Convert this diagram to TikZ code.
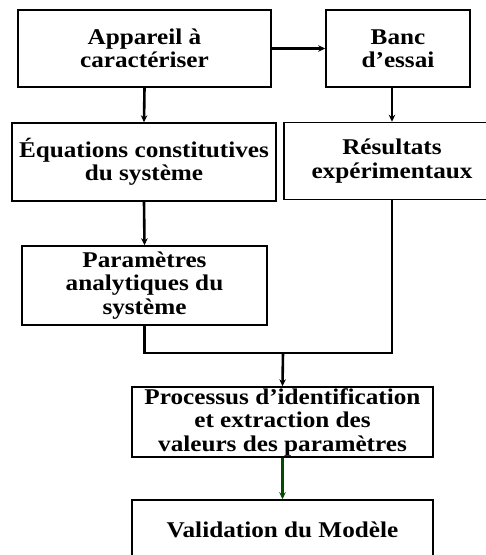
\documentclass[tikz,border=0pt]{standalone}
\usepackage{fontspec}
\setmainfont[FakeStretch=1.12]{Liberation Serif}
\usetikzlibrary{arrows.meta}

\begin{document}
\begin{tikzpicture}[x=1pt, y=-1pt, >={Stealth[length=7pt,width=6.5pt]},
    bloc/.style={draw, line width=1.5pt, align=center, inner sep=1pt,
      font=\bfseries\fontsize{22.5}{23.5}\selectfont},
    lien/.style={line width=2.6pt}]
    % cadre de la figure
    \useasboundingbox (0,0) rectangle (486,555);
    \clip (0,0) rectangle (486,555);

    % les blocs
    \node[bloc, minimum width=253pt, minimum height=77pt] (app) at (144.5,48.5)
      {Appareil à\\caractériser};
    \node[bloc, minimum width=144pt, minimum height=77pt] (banc) at (398,48.5)
      {Banc\\d’essai};
    \node[bloc, minimum width=264pt, minimum height=78pt] (equ) at (144,162)
      {Équations constitutives\\du système};
    \node[bloc, minimum width=216pt, minimum height=77pt] (res) at (392,161)
      {Résultats\\expérimentaux};
    \node[bloc, minimum width=245pt, minimum height=79pt] (par) at (144.5,285.5)
      {Paramètres\\analytiques du\\système};
    \node[bloc, minimum width=301pt, minimum height=70pt] (proc) at (282.5,422)
      {Processus d’identification\\et extraction des\\valeurs des paramètres};
    \node[bloc, minimum width=301pt, minimum height=60pt] (val) at (282.5,530)
      {Validation du Modèle};

    % point de jonction
    \coordinate (j) at (283,353);

    % les liaisons
    \draw[->, lien] (app.east) -- (banc.west);
    \draw[->, lien] (app.south) -- (equ.north);
    \draw[->, lien] (res.north |- banc.south) -- (res.north);
    \draw[->, lien] (equ.south) -- (par.north);
    \draw[lien] (par.south) |- (j) -| (res.south);
    \draw[->, lien] (j) -- (proc.north);
    \draw[->, lien, green!30!black] (proc.south) -- (val.north);
\end{tikzpicture}
\end{document}
